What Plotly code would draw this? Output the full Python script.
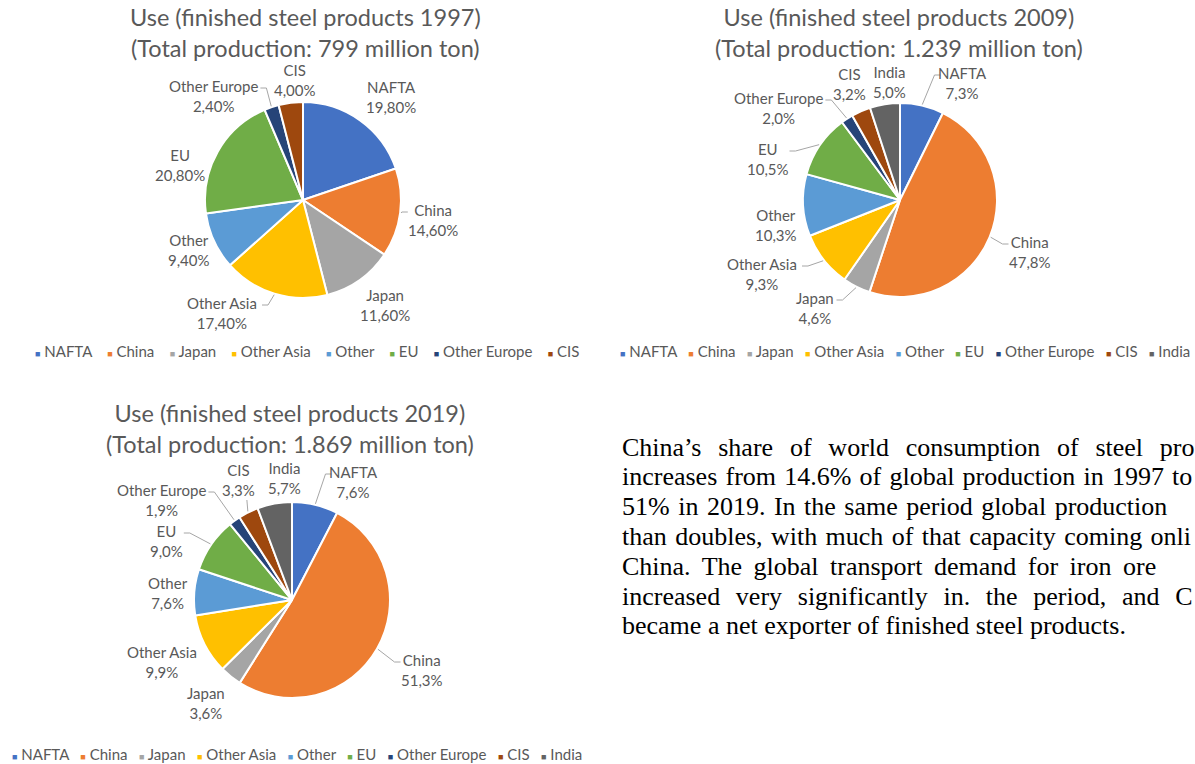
import math
import plotly.graph_objects as go

W, H = 1195, 764

# ---------------- data ----------------
REGIONS_1997 = ["NAFTA", "China", "Japan", "Other Asia", "Other", "EU", "Other Europe", "CIS"]
SHARE_1997 = [19.8, 14.6, 11.6, 17.4, 9.4, 20.8, 2.4, 4.0]

REGIONS_2009 = ["NAFTA", "China", "Japan", "Other Asia", "Other", "EU", "Other Europe", "CIS", "India"]
SHARE_2009 = [7.3, 47.8, 4.6, 9.3, 10.3, 10.5, 2.0, 3.2, 5.0]

REGIONS_2019 = ["NAFTA", "China", "Japan", "Other Asia", "Other", "EU", "Other Europe", "CIS", "India"]
SHARE_2019 = [7.6, 51.3, 3.6, 9.9, 7.6, 9.0, 1.9, 3.3, 5.7]

TITLE_1997 = ["Use (finished steel products 1997)", "(Total production: 799 million ton)"]
TITLE_2009 = ["Use (finished steel products 2009)", "(Total production: 1.239 million ton)"]
TITLE_2019 = ["Use (finished steel products 2019)", "(Total production: 1.869 million ton)"]

# paragraph as visible in the reference (cut at the right edge of the page)
PARAGRAPH_LINES = [
    "China\u2019s share of world consumption of steel pro",
    "increases from 14.6% of global production in 1997 to",
    "51% in 2019. In the same period global production",
    "than doubles, with much of that capacity coming onli",
    "China. The global transport demand for iron ore",
    "increased very significantly in. the period, and C",
    "became a net exporter of finished steel products.",
]

# ---------------- styles ----------------
COLORS = {
    "NAFTA": "#4472C4", "China": "#ED7D31", "Japan": "#A5A5A5",
    "Other Asia": "#FFC000", "Other": "#5B9BD5", "EU": "#70AD47",
    "Other Europe": "#264478", "CIS": "#9E480E", "India": "#636363",
}
TXT = "#595959"
LINE_C = "#A6A6A6"
FONT = "Lato"

CHARTS = [
    dict(regions=REGIONS_1997, values=SHARE_1997, title=TITLE_1997, dec=2,
         c=(303, 200), r=98, title_xy=(305, 32), legend_xy=(307, 351), legend_gap=4,
         offsets={"NAFTA": (88, -103), "China": (130, 20), "Japan": (82, 105),
                  "Other Asia": (-81, 113), "Other": (-114, 50), "EU": (-123, -35),
                  "Other Europe": (-90, -104), "CIS": (-8, -120)},
         leaders=["Other Europe", "China", "Other Asia"]),
    dict(regions=REGIONS_2009, values=SHARE_2009, title=TITLE_2009, dec=1,
         c=(900, 200), r=97, title_xy=(899, 32), legend_xy=(905, 351), legend_gap=3,
         offsets={"NAFTA": (62, -117), "China": (130, 52), "Japan": (-85, 108),
                  "Other Asia": (-138, 74), "Other": (-124, 25), "EU": (-132, -41),
                  "Other Europe": (-122, -92), "CIS": (-51, -116), "India": (-11, -118)},
         leaders=["NAFTA", "China", "Japan", "Other Asia", "EU", "Other Europe"]),
    dict(regions=REGIONS_2019, values=SHARE_2019, title=TITLE_2019, dec=1,
         c=(292, 600), r=98, title_xy=(290, 428), legend_xy=(297, 754), legend_gap=3,
         offsets={"NAFTA": (61, -118), "China": (130, 70), "Japan": (-86, 103),
                  "Other Asia": (-130, 62), "Other": (-124, -7), "EU": (-126, -59),
                  "Other Europe": (-131, -100), "CIS": (-54, -120), "India": (-8, -122)},
         leaders=["NAFTA", "China", "EU", "Other Europe", "CIS"]),
]

PARA_X = 620
PARA_Y0 = 447
PARA_DY = 29.8
PARA_WORDSPACING = [10.3, 1.7, 2.0, 1.9, 5.0, 9.2, 0]


def px(x):
    return x / W


def py(y):
    return 1 - y / H


fig = go.Figure()
annotations = []
shapes = []

for ch in CHARTS:
    cx, cy = ch["c"]
    r = ch["r"]
    regs, vals = ch["regions"], ch["values"]
    fig.add_trace(go.Pie(
        labels=regs, values=vals, sort=False, direction="clockwise", rotation=0,
        marker=dict(colors=[COLORS[g] for g in regs], line=dict(color="white", width=2)),
        textinfo="none", hoverinfo="label+percent", showlegend=False,
        domain=dict(x=[px(cx - r), px(cx + r)], y=[py(cy + r), py(cy - r)]),
    ))
    # title
    annotations.append(dict(
        x=px(ch["title_xy"][0]), y=py(ch["title_xy"][1]), xref="paper", yref="paper",
        text="<br>".join(ch["title"]), showarrow=False, xanchor="center", yanchor="middle",
        font=dict(family=FONT, size=23.5, color=TXT),
    ))
    # data labels + leader lines
    total = sum(vals)
    cum = 0.0
    for g, v in zip(regs, vals):
        mid = (cum + v / 2) / total * 2 * math.pi
        cum += v
        dx, dy = ch["offsets"][g]
        lx, ly = cx + dx, cy + dy
        pct = f"{v:.{ch['dec']}f}".replace(".", ",") + "%"
        annotations.append(dict(
            x=px(lx), y=py(ly), xref="paper", yref="paper",
            text=f"{g}<br>{pct}", showarrow=False, xanchor="center", yanchor="middle",
            font=dict(family=FONT, size=15, color=TXT),
        ))
        if g in ch["leaders"]:
            sx = cx + (r + 1) * math.sin(mid)
            sy = cy - (r + 1) * math.cos(mid)
            hw = max(len(g), len(pct)) * 3.7
            if sx > lx + hw:
                ex, ey = lx + hw + 3, ly - 8
                mx = ex + 6
                path = f"M{px(ex)},{py(ey)} L{px(mx)},{py(ey)} L{px(sx)},{py(sy)}"
            elif sx < lx - hw:
                ex, ey = lx - hw - 3, ly - 8
                mx = ex - 6
                path = f"M{px(ex)},{py(ey)} L{px(mx)},{py(ey)} L{px(sx)},{py(sy)}"
            else:
                ex = lx + (hw * 0.6 if sx > lx else -hw * 0.6)
                ey = ly + 20 if sy > ly else ly - 22
                path = f"M{px(ex)},{py(ey)} L{px(sx)},{py(sy)}"
            shapes.append(dict(type="path", xref="paper", yref="paper", path=path,
                               line=dict(color=LINE_C, width=1)))
    # legend
    items = []
    for g in regs:
        items.append(f'<span style="color:{COLORS[g]};font-size:9px">\u25A0</span> {g}')
    annotations.append(dict(
        x=px(ch["legend_xy"][0]), y=py(ch["legend_xy"][1]), xref="paper", yref="paper",
        text=("\u00a0" * ch["legend_gap"]).join(items), showarrow=False,
        xanchor="center", yanchor="middle",
        font=dict(family=FONT, size=15, color=TXT),
    ))

# paragraph
for i, line in enumerate(PARAGRAPH_LINES):
    ws = PARA_WORDSPACING[i]
    annotations.append(dict(
        x=px(PARA_X), y=py(PARA_Y0 + i * PARA_DY), xref="paper", yref="paper",
        text=f'<span style="word-spacing:{ws}px">{line}</span>', showarrow=False,
        xanchor="left", yanchor="middle", align="left",
        font=dict(family="Liberation Serif", size=26, color="black"),
    ))

fig.update_layout(
    width=W, height=H, margin=dict(l=0, r=0, t=0, b=0),
    paper_bgcolor="white", plot_bgcolor="white",
    annotations=annotations, shapes=shapes, showlegend=False,
)

fig.write_html("out.html", config={"displayModeBar": False},
               post_script="document.body.style.margin='0';")
